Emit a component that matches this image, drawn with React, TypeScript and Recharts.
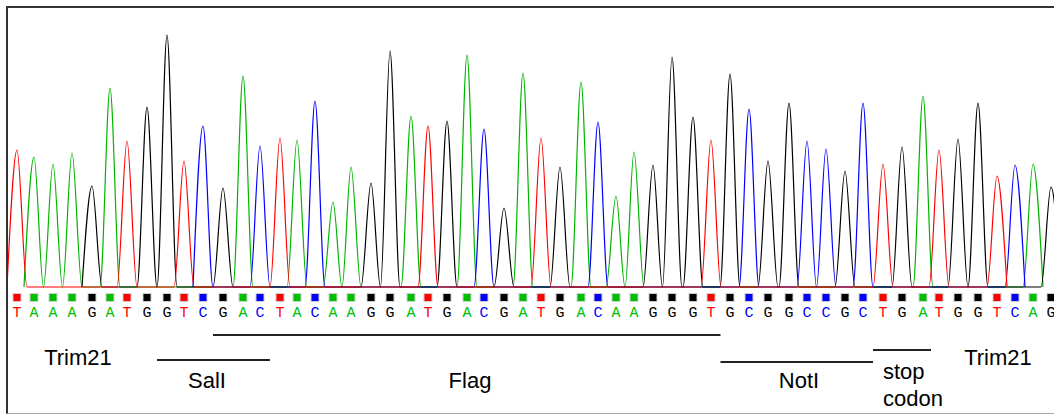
import React from 'react';
import { ComposedChart, Line, Scatter, XAxis, YAxis, ReferenceLine } from 'recharts';

// base calls, left to right
const BASES = [
  'T', 'A', 'A', 'A', 'G', 'A', 'T', 'G', 'G', 'T',
  'C', 'G', 'A', 'C', 'T', 'A', 'C', 'A', 'A', 'G',
  'G', 'A', 'T', 'G', 'A', 'C', 'G', 'A', 'T', 'G',
  'A', 'C', 'A', 'A', 'G', 'G', 'G', 'T', 'G', 'C',
  'G', 'G', 'C', 'C', 'G', 'C', 'T', 'G', 'A', 'T',
  'G', 'G', 'T', 'C', 'A', 'G',
];

// scan position of each peak
const POSITIONS = [
  17, 34, 53, 72, 92, 110, 127, 147, 167, 184,
  203, 223, 243, 260, 280, 297, 315, 333, 351, 371,
  390, 411, 428, 447, 467, 484, 504, 523, 541, 560,
  581, 598, 616, 634, 653, 672, 693, 711, 730, 749,
  768, 789, 807, 826, 845, 863, 883, 902, 923, 939,
  958, 978, 997, 1015, 1033, 1051,
];

// signal height of each peak
const HEIGHTS = [
  137, 130, 123, 134, 101, 199, 146, 180, 252, 126,
  161, 99, 211, 141, 149, 147, 186, 85, 120, 104,
  236, 171, 161, 166, 232, 158, 79, 214, 149, 120,
  205, 165, 91, 135, 122, 230, 170, 147, 213, 178,
  126, 184, 146, 138, 116, 184, 123, 140, 191, 137,
  148, 184, 111, 122, 123, 100,
];

// features: name, first and last base index
const FEATURE_NAMES = ['SalI', 'Flag', 'NotI', 'stop codon'];
const FEATURE_START = [8, 11, 38, 46];
const FEATURE_END = [13, 37, 45, 48];

const LINE_COLORS: Record<string, string> = { A: '#00b400', C: '#0000ff', G: '#000000', T: '#ff0000' };
const CALL_COLORS: Record<string, string> = { A: '#00c000', C: '#0000ff', G: '#000000', T: '#ff0000' };

const HALF_WIDTH = 10;

function trace(base: string) {
  const pts: { x: number; y: number }[] = [];
  BASES.forEach((b, i) => {
    if (b !== base) return;
    const p = POSITIONS[i];
    const left = p - HALF_WIDTH;
    const last = pts[pts.length - 1];
    if (last && last.x >= left) last.x = (last.x + left) / 2;
    else pts.push({ x: left, y: 0 });
    pts.push({ x: p, y: HEIGHTS[i] });
    pts.push({ x: p + HALF_WIDTH, y: 0 });
  });
  return pts;
}

const edge = (i: number, side: -1 | 1) => {
  const j = i + side;
  if (j < 0 || j >= POSITIONS.length) return POSITIONS[i] + side * HALF_WIDTH;
  return (POSITIONS[i] + POSITIONS[j]) / 2;
};

const BaseCall = (props: any) => {
  const { cx, cy, payload } = props;
  const color = CALL_COLORS[payload.base];
  return (
    <g>
      <rect x={cx - 4.5} y={cy + 6} width={9} height={9} fill="#cfcfcf" />
      <rect x={cx - 3.5} y={cy + 7} width={7} height={7} fill={color} />
      <text x={cx} y={cy + 30} textAnchor="middle" fontFamily="'Liberation Mono', 'Courier New', monospace"
        fontSize={15} fill={color}>
        {payload.base}
      </text>
    </g>
  );
};

const Caption = (props: any) => {
  const { cx, cy, payload } = props;
  return (
    <text x={cx} y={cy} textAnchor={payload.anchor} fontFamily="'Liberation Sans', Arial, sans-serif"
      fontSize={22} fill="#000">
      {payload.lines.map((l: string, k: number) => (
        <tspan key={k} x={cx} dy={k === 0 ? 0 : 27}>{l}</tspan>
      ))}
    </text>
  );
};

export default function App() {
  const calls = BASES.map((b, i) => ({ x: POSITIONS[i], y: 0, base: b }));
  const segLevel = [-73, -48, -75, -63];
  const segments = FEATURE_NAMES.map((name, k) => ({
    name,
    x1: edge(FEATURE_START[k], -1),
    x2: edge(FEATURE_END[k], 1),
    y: segLevel[k],
  }));
  const captions = [
    { x: 78, y: -78, lines: ['Trim21'], anchor: 'middle' },
    { x: 207, y: -101, lines: ['SalI'], anchor: 'middle' },
    { x: 470, y: -101, lines: ['Flag'], anchor: 'middle' },
    { x: 799, y: -101, lines: ['NotI'], anchor: 'middle' },
    { x: 883, y: -92, lines: ['stop', 'codon'], anchor: 'start' },
    { x: 998, y: -78, lines: ['Trim21'], anchor: 'middle' },
  ];

  return (
    <div
      style={{
        position: 'absolute', left: 6, top: 6, width: 1046, height: 405,
        borderLeft: '2px solid #333', borderTop: '2px solid #333', borderBottom: '1px solid #aaa',
        background: '#fff',
      }}
    >
      <ComposedChart width={1046} height={405} margin={{ top: 0, right: 0, bottom: 0, left: 0 }}>
        <XAxis type="number" dataKey="x" domain={[8, 1054]} allowDataOverflow hide />
        <YAxis type="number" dataKey="y" domain={[-126, 279]} allowDataOverflow hide />
        {['A', 'C', 'G', 'T'].map((b) => (
          <Line
            key={b}
            data={trace(b)}
            dataKey="y"
            type="monotone"
            stroke={LINE_COLORS[b]}
            strokeWidth={1.2}
            dot={false}
            activeDot={false}
            isAnimationActive={false}
          />
        ))}
        <Scatter data={calls} dataKey="y" shape={BaseCall} isAnimationActive={false} />
        {segments.map((s) => (
          <ReferenceLine
            key={s.name}
            segment={[{ x: s.x1, y: s.y }, { x: s.x2, y: s.y }]}
            stroke="#222"
            strokeWidth={2}
          />
        ))}
        <Scatter data={captions} dataKey="y" shape={Caption} isAnimationActive={false} />
      </ComposedChart>
    </div>
  );
}
